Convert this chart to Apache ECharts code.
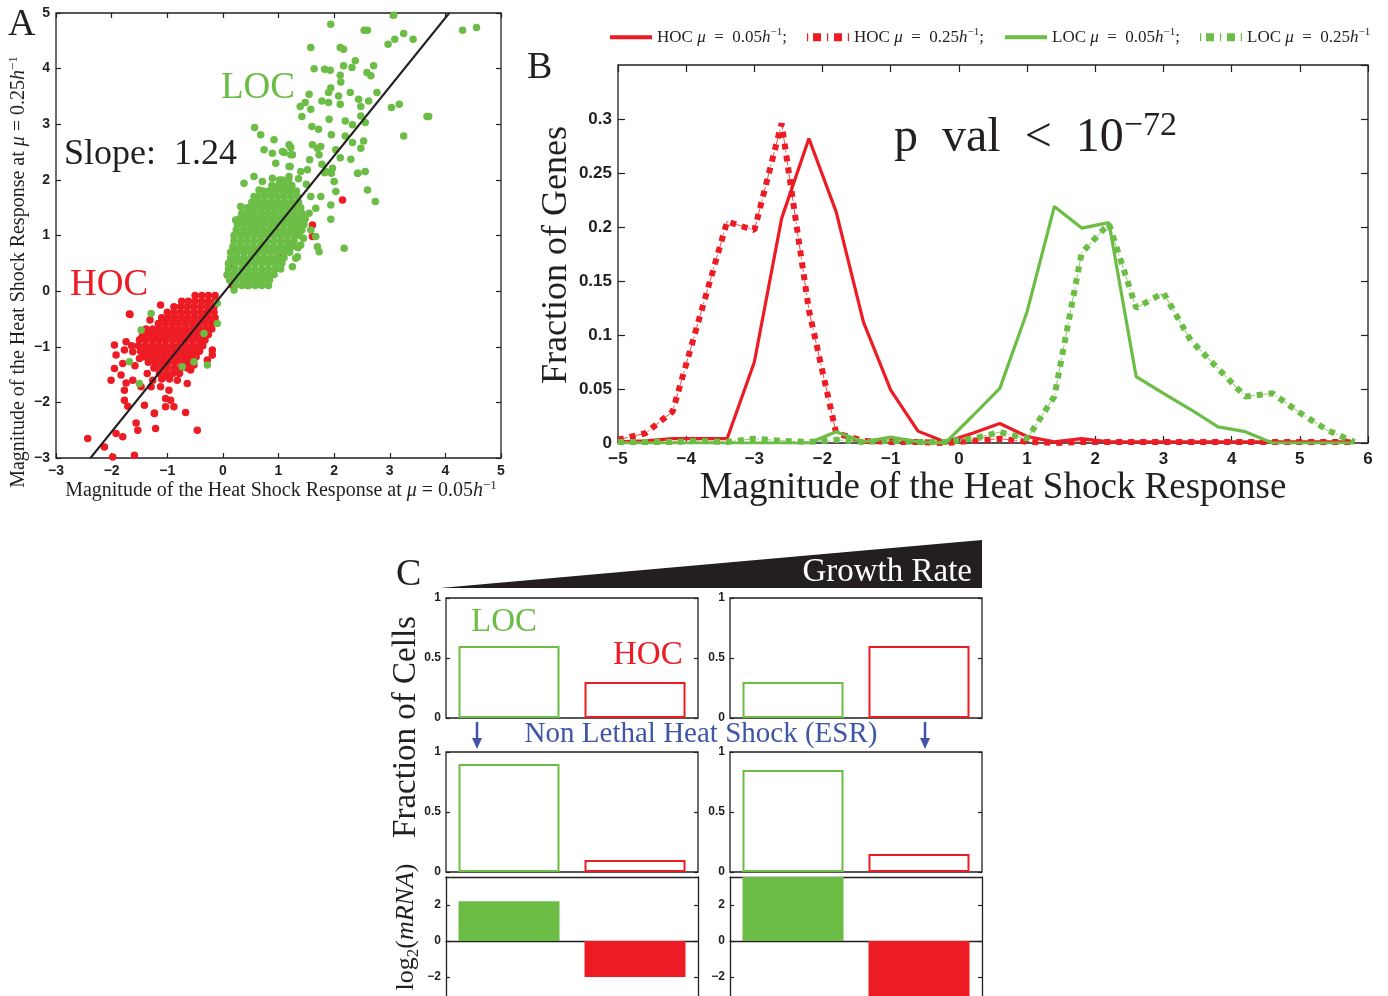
<!DOCTYPE html>
<html>
<head>
<meta charset="utf-8">
<title>Heat shock response</title>
<script src="https://cdn.jsdelivr.net/npm/echarts@6/dist/echarts.min.js"></script>
<style>
  html, body { margin: 0; padding: 0; background: #fff; }
  #chart { width: 1388px; height: 996px; }
</style>
</head>
<body>
<div id="chart"></div>
<script>
// ---------- panel A: response at mu=0.05 (x) vs mu=0.25 (y) ----------
const hocCore = [
  [-0.50,-0.08],[-0.38,-0.08],[-0.26,-0.08],[-0.14,-0.08],
  [-0.74,-0.18],[-0.62,-0.18],[-0.50,-0.18],[-0.38,-0.18],[-0.26,-0.18],[-0.14,-0.18],
  [-0.88,-0.28],[-0.76,-0.28],[-0.64,-0.28],[-0.52,-0.28],[-0.40,-0.28],[-0.28,-0.28],[-0.16,-0.28],
  [-1.00,-0.38],[-0.88,-0.38],[-0.76,-0.38],[-0.64,-0.38],[-0.52,-0.38],[-0.40,-0.38],[-0.28,-0.38],[-0.16,-0.38],
  [-1.10,-0.48],[-0.98,-0.48],[-0.86,-0.48],[-0.74,-0.48],[-0.62,-0.48],[-0.50,-0.48],[-0.38,-0.48],[-0.26,-0.48],[-0.14,-0.48],
  [-1.16,-0.58],[-1.04,-0.58],[-0.92,-0.58],[-0.80,-0.58],[-0.68,-0.58],[-0.56,-0.58],[-0.44,-0.58],[-0.32,-0.58],[-0.20,-0.58],
  [-1.38,-0.68],[-1.26,-0.68],[-1.14,-0.68],[-1.02,-0.68],[-0.90,-0.68],[-0.78,-0.68],[-0.66,-0.68],[-0.54,-0.68],[-0.42,-0.68],[-0.30,-0.68],[-0.20,-0.68],
  [-1.44,-0.78],[-1.32,-0.78],[-1.20,-0.78],[-1.08,-0.78],[-0.96,-0.78],[-0.84,-0.78],[-0.72,-0.78],[-0.60,-0.78],[-0.48,-0.78],[-0.36,-0.78],[-0.26,-0.78],
  [-1.50,-0.88],[-1.38,-0.88],[-1.26,-0.88],[-1.14,-0.88],[-1.02,-0.88],[-0.90,-0.88],[-0.78,-0.88],[-0.66,-0.88],[-0.54,-0.88],[-0.42,-0.88],[-0.32,-0.88],
  [-1.52,-0.98],[-1.40,-0.98],[-1.28,-0.98],[-1.16,-0.98],[-1.04,-0.98],[-0.92,-0.98],[-0.80,-0.98],[-0.68,-0.98],[-0.56,-0.98],[-0.44,-0.98],[-0.36,-0.98],
  [-1.48,-1.08],[-1.36,-1.08],[-1.24,-1.08],[-1.12,-1.08],[-1.00,-1.08],[-0.88,-1.08],[-0.76,-1.08],[-0.64,-1.08],[-0.52,-1.08],[-0.42,-1.08],
  [-1.42,-1.18],[-1.30,-1.18],[-1.18,-1.18],[-1.06,-1.18],[-0.94,-1.18],[-0.82,-1.18],[-0.70,-1.18],[-0.58,-1.18],[-0.48,-1.18],
  [-1.34,-1.28],[-1.22,-1.28],[-1.10,-1.28],[-0.98,-1.28],[-0.86,-1.28],[-0.74,-1.28],[-0.62,-1.28],
  [-1.24,-1.38],[-1.12,-1.38],[-1.00,-1.38],[-0.88,-1.38],[-0.76,-1.38],[-0.64,-1.38],
  [-1.14,-1.48],[-1.02,-1.48],[-0.90,-1.48],[-0.78,-1.48],
  [-1.10,-1.58],[-0.96,-1.58]
];
const hocSparse = [
  [-2.43,-2.65],[-1.98,-2.98],[-2.13,-2.80],[-1.92,-2.56],[-1.80,-2.62],[-1.59,-2.95],[-1.56,-2.37],[-1.53,-2.50],
  [-1.21,-2.47],[-1.23,-2.19],[-0.67,-2.18],[-0.46,-2.50],[-1.12,-0.25],[-1.67,-0.42],[-1.31,-0.52],[-1.47,-0.85],
  [-1.95,-0.97],[-1.92,-1.15],[-1.77,-1.06],[-1.62,-1.09],[-1.50,-1.21],[-1.80,-1.30],[-1.95,-1.39],[-1.83,-1.51],
  [-2.01,-1.60],[-1.74,-1.65],[-1.62,-1.60],[-1.77,-1.78],[-1.47,-1.72],[-1.29,-1.72],[-1.12,-1.72],[-0.97,-1.78],
  [-1.03,-1.93],[-0.94,-1.96],[-0.88,-2.08],[-1.03,-2.08],[-1.41,-2.05],[-1.23,-2.20],[-1.77,-1.96],[-1.71,-2.07],
  [-0.82,-1.60],[-0.64,-1.66],[-0.79,-1.45],[-0.58,-1.42],[-0.52,-1.33],[-0.19,-1.06],[-0.19,-1.15],[-0.28,-1.24],
  [-1.15,-1.39],[-1.00,-1.54],[-1.26,-1.60],[-1.68,-0.41],[-1.74,-0.91],[-1.36,-1.48],[-1.58,-1.34],[-1.64,-0.98],
  [2.15,1.64],[1.61,1.19],[1.61,0.98],[1.25,0.86],[1.07,0.62],[0.83,0.26],[0.71,0.23],[0.17,0.11],
  [0.08,0.29],[0.17,0.47],[1.04,0.61],[0.60,0.12],[0.45,0.10]
];
const locCore = [
  [0.22,0.10],[0.34,0.10],[0.46,0.10],[0.58,0.10],[0.70,0.10],[0.82,0.10],
  [0.12,0.20],[0.24,0.20],[0.36,0.20],[0.48,0.20],[0.60,0.20],[0.72,0.20],[0.84,0.20],
  [0.08,0.30],[0.20,0.30],[0.32,0.30],[0.44,0.30],[0.56,0.30],[0.68,0.30],[0.80,0.30],[0.92,0.30],
  [0.10,0.40],[0.22,0.40],[0.34,0.40],[0.46,0.40],[0.58,0.40],[0.70,0.40],[0.82,0.40],[0.94,0.40],[1.04,0.40],
  [0.10,0.50],[0.22,0.50],[0.34,0.50],[0.46,0.50],[0.58,0.50],[0.70,0.50],[0.82,0.50],[0.94,0.50],[1.06,0.50],
  [0.14,0.60],[0.26,0.60],[0.38,0.60],[0.50,0.60],[0.62,0.60],[0.74,0.60],[0.86,0.60],[0.98,0.60],[1.10,0.60],
  [0.14,0.70],[0.26,0.70],[0.38,0.70],[0.50,0.70],[0.62,0.70],[0.74,0.70],[0.86,0.70],[0.98,0.70],[1.10,0.70],[1.20,0.70],
  [0.18,0.80],[0.30,0.80],[0.42,0.80],[0.54,0.80],[0.66,0.80],[0.78,0.80],[0.90,0.80],[1.02,0.80],[1.14,0.80],[1.24,0.80],
  [0.20,0.90],[0.32,0.90],[0.44,0.90],[0.56,0.90],[0.68,0.90],[0.80,0.90],[0.92,0.90],[1.04,0.90],[1.16,0.90],[1.28,0.90],
  [0.20,1.00],[0.32,1.00],[0.44,1.00],[0.56,1.00],[0.68,1.00],[0.80,1.00],[0.92,1.00],[1.04,1.00],[1.16,1.00],[1.28,1.00],[1.38,1.00],
  [0.24,1.10],[0.36,1.10],[0.48,1.10],[0.60,1.10],[0.72,1.10],[0.84,1.10],[0.96,1.10],[1.08,1.10],[1.20,1.10],[1.32,1.10],[1.42,1.10],
  [0.26,1.20],[0.38,1.20],[0.50,1.20],[0.62,1.20],[0.74,1.20],[0.86,1.20],[0.98,1.20],[1.10,1.20],[1.22,1.20],[1.34,1.20],[1.46,1.20],
  [0.30,1.30],[0.42,1.30],[0.54,1.30],[0.66,1.30],[0.78,1.30],[0.90,1.30],[1.02,1.30],[1.14,1.30],[1.26,1.30],[1.38,1.30],[1.48,1.30],
  [0.34,1.40],[0.46,1.40],[0.58,1.40],[0.70,1.40],[0.82,1.40],[0.94,1.40],[1.06,1.40],[1.18,1.40],[1.30,1.40],[1.42,1.40],
  [0.44,1.50],[0.56,1.50],[0.68,1.50],[0.80,1.50],[0.92,1.50],[1.04,1.50],[1.16,1.50],[1.28,1.50],[1.40,1.50],
  [0.52,1.60],[0.64,1.60],[0.76,1.60],[0.88,1.60],[1.00,1.60],[1.12,1.60],[1.24,1.60],[1.36,1.60],
  [0.62,1.70],[0.74,1.70],[0.86,1.70],[0.98,1.70],[1.10,1.70],[1.22,1.70],[1.34,1.70],
  [0.72,1.80],[0.84,1.80],[0.96,1.80],[1.08,1.80],[1.20,1.80],[1.32,1.80],
  [0.88,1.90],[1.00,1.90],[1.12,1.90],[1.24,1.90],
  [1.02,2.00],[1.18,2.00]
];
const locSparse = [
  [3.07,4.96],[1.94,4.80],[2.54,4.69],[2.60,4.69],[3.25,4.63],[3.42,4.53],[3.09,4.53],[2.97,4.44],[4.31,4.69],[4.56,4.74],
  [1.58,4.38],[2.11,4.38],[2.17,4.35],[2.38,4.14],[1.64,4.00],[1.83,3.99],[1.93,3.97],[2.17,4.05],[2.32,4.02],[2.59,3.93],
  [2.71,4.05],[2.66,3.87],[2.11,3.88],[2.12,3.76],[1.94,3.65],[1.90,3.57],[2.08,3.51],[2.29,3.57],[1.55,3.54],[1.78,3.42],
  [1.48,3.39],[1.39,3.32],[1.90,3.39],[2.11,3.36],[2.44,3.45],[2.48,3.32],[2.62,3.42],[2.77,3.57],[3.17,3.36],[3.03,3.30],
  [3.67,3.14],[3.70,3.14],[1.58,3.27],[1.42,3.14],[1.91,3.09],[2.20,3.06],[2.48,3.15],[2.56,3.03],[2.33,2.99],[1.60,2.96],
  [1.72,2.91],[3.25,2.79],[0.57,2.94],[0.68,2.81],[0.92,2.72],[0.74,2.54],[1.22,2.58],[1.25,2.45],[1.61,2.63],[1.76,2.60],
  [1.95,2.81],[2.20,2.79],[2.33,2.67],[2.53,2.70],[2.48,2.57],[2.30,2.37],[2.11,2.40],[1.95,2.12],[1.78,2.28],[1.83,2.13],
  [2.43,2.12],[2.56,2.15],[2.60,1.82],[2.74,1.61],[1.94,1.29],[0.89,2.48],[1.10,2.49],[0.95,2.30],[1.21,2.24],
  [0.38,1.94],[0.56,2.06],[0.71,1.97],[0.23,1.28],[1.07,2.00],[1.19,2.06],[1.40,2.15],[1.52,2.18],[1.70,2.57],[1.73,2.45],
  [1.56,2.36],[2.03,2.54],[1.97,2.21],[1.85,2.15],[2.42,2.12],[2.00,1.97],[2.03,1.79],[1.94,1.55],[1.76,1.70],[1.67,1.49],
  [2.18,0.77],[1.70,0.80],[1.67,0.98],[1.58,1.10],[1.34,0.62],[1.25,0.44],[1.73,0.71],[1.40,0.83],[1.31,0.59],
  [1.07,2.51],[1.19,2.63],[1.22,2.45],[1.19,2.24],[0.89,2.03],[0.65,1.82],[0.80,1.79],[0.95,1.88],[1.10,1.79],
  [0.56,1.70],[0.32,1.52],[0.47,1.46],[1.36,2.02],[1.50,1.92],[1.58,1.70],[1.55,1.40],[1.45,0.95],[1.35,0.78],
  [-1.29,-0.40],[-1.47,-0.70],[-1.68,-1.27],[-1.50,-1.66],[-0.73,-1.36],[-0.28,-1.33],[-0.52,-1.27],
  [-0.10,-0.22],[-0.10,-0.58],[-0.34,-0.76],[0.20,0.02]
];
const slopeLineX = [-2.38, 4.07];
const slopeLineY = [-3, 5];

// ---------- panel B: distribution of heat shock response ----------
const binCenters = [-5, -4.6, -4.2, -3.8, -3.4, -3.0, -2.6, -2.2, -1.8, -1.4, -1.0, -0.6, -0.2, 0.2,
  0.6, 1.0, 1.4, 1.8, 2.2, 2.6, 3.0, 3.4, 3.8, 4.2, 4.6, 5.0, 5.4, 5.8];
const hocSlow = [0.001, 0.002, 0.004, 0.004, 0.004, 0.075, 0.208, 0.282, 0.214, 0.112, 0.049, 0.011, 0.001, 0.009,
  0.018, 0.006, 0.001, 0.004, 0.001, 0.001, 0.001, 0.001, 0.001, 0.001, 0.001, 0.001, 0.001, 0.001];
const hocFast = [0.003, 0.009, 0.029, 0.117, 0.205, 0.197, 0.296, 0.123, 0.009, 0.002, 0.001, 0.001, 0.000, 0.002,
  0.004, 0.001, 0.000, 0.001, 0.001, 0.001, 0.001, 0.001, 0.001, 0.001, 0.001, 0.001, 0.001, 0.001];
const locSlow = [0.000, 0.000, 0.000, 0.000, 0.000, 0.000, 0.000, 0.000, 0.0105, 0.001, 0.0055, 0.001, 0.000, 0.025,
  0.0506, 0.1216, 0.219, 0.199, 0.204, 0.0614, 0.046, 0.031, 0.015, 0.0105, 0.000, 0.000, 0.000, 0.000];
const locFast = [0.001, 0.001, 0.001, 0.002, 0.001, 0.004, 0.002, 0.001, 0.003, 0.001, 0.002, 0.001, 0.001, 0.004,
  0.010, 0.004, 0.043, 0.176, 0.203, 0.125, 0.139, 0.095, 0.069, 0.043, 0.046, 0.028, 0.012, 0.001];
const seriesNames = ['HOC 0.05', 'HOC 0.25', 'LOC 0.05', 'LOC 0.25'];

// ---------- panel C: cartoon bars (LOC, HOC) ----------
const barPos = [1, 2];
const cellsSlowBefore = [0.6, 0.3];
const cellsFastBefore = [0.3, 0.6];
const cellsSlowAfter = [0.9, 0.1];
const cellsFastAfter = [0.85, 0.15];
const mrnaSlow = [2.2, -2.0];
const mrnaFast = [3.8, -3.8];

const RED = '#ED1C24';
const GREEN = '#6BBD45';
const BLUE = '#3F56A6';
const AX = '#231F20';
const SERIF = '"Liberation Serif", "DejaVu Serif", serif';
const SANS = '"Liberation Sans", Arial, sans-serif';
const minus = v => String(v).replace('-', '\u2212');

const grids = [
  { left: 56, top: 13, width: 445, height: 445 },     // A
  { left: 618, top: 65, width: 750, height: 378 },    // B
  { left: 446, top: 598, width: 252, height: 120 },   // C top left
  { left: 730, top: 598, width: 252, height: 120 },   // C top right
  { left: 446, top: 752, width: 252, height: 120 },   // C mid left
  { left: 730, top: 752, width: 252, height: 120 },   // C mid right
  { left: 446, top: 877, width: 252, height: 119, show: false },   // C bottom left (cut by page edge)
  { left: 730, top: 877, width: 252, height: 119, show: false }    // C bottom right
].map(g => Object.assign({ show: true, borderColor: AX, borderWidth: 1.3, backgroundColor: 'transparent' }, g));

const tickLabel = (size) => ({ fontFamily: SANS, fontWeight: 'bold', fontSize: size, color: AX, formatter: minus });
const edge = { show: true, onZero: false, lineStyle: { color: AX, width: 1.3 } };

const xAxes = [];
const yAxes = [];
function boxAxes(gi, xr, yr, xLab, yLab, opts) {
  opts = opts || {};
  const tick = { inside: true, length: opts.tickLen || 5, lineStyle: { color: AX, width: 1.2 } };
  const base = { gridIndex: gi, type: 'value', splitLine: { show: false } };
  const open = !!opts.openBottom;
  xAxes.push(Object.assign({}, base, xr, {
    axisLine: open ? { show: true, onZero: true, lineStyle: { color: AX, width: 1.3 } } : { show: false, onZero: false },
    axisTick: opts.noXTicks ? { show: false } : tick,
    axisLabel: xLab ? Object.assign({ margin: xLab.margin }, tickLabel(xLab.size)) : { show: false }
  }));
  xAxes.push(Object.assign({}, base, xr, {
    position: 'top', axisLine: open ? edge : { show: false, onZero: false },
    axisTick: opts.noXTicks ? { show: false } : tick, axisLabel: { show: false }
  }));
  const yTick = Object.assign({}, tick, opts.yCustom ? { customValues: opts.yCustom } : {});
  yAxes.push(Object.assign({}, base, yr, {
    axisLine: open ? edge : { show: false, onZero: false }, axisTick: yTick,
    axisLabel: Object.assign({ margin: yLab.margin, showMaxLabel: yLab.showMax !== false },
      opts.yCustom ? { customValues: opts.yCustom } : {}, tickLabel(yLab.size))
  }));
  yAxes.push(Object.assign({}, base, yr, {
    position: 'right', axisLine: open ? edge : { show: false, onZero: false }, axisTick: yTick, axisLabel: { show: false }
  }));
}

boxAxes(0, { min: -3, max: 5, interval: 1 }, { min: -3, max: 5, interval: 1 },
  { size: 14, margin: 6 }, { size: 14, margin: 6 });
boxAxes(1, { min: -5, max: 6, interval: 1 }, { min: 0, max: 0.35, interval: 0.05 },
  { size: 17, margin: 8 }, { size: 17, margin: 6, showMax: false }, { tickLen: 7 });
for (let gi = 2; gi < 6; gi++) {
  boxAxes(gi, { min: 0.5, max: 2.5 }, { min: 0, max: 1, interval: 0.5 }, null, { size: 12, margin: 5 },
    { noXTicks: true, tickLen: 4 });
}
for (let gi = 6; gi < 8; gi++) {
  boxAxes(gi, { min: 0.5, max: 2.5 }, { min: -3.06, max: 3.55 }, null, { size: 12, margin: 5 },
    { noXTicks: true, tickLen: 4, openBottom: true, yCustom: [-2, 0, 2] });
}

const series = [];
// panel A
series.push({ type: 'scatter', xAxisIndex: 0, yAxisIndex: 0, data: hocCore.concat(hocSparse),
  symbolSize: 7.5, itemStyle: { color: RED, opacity: 1 }, silent: true });
series.push({ type: 'scatter', xAxisIndex: 0, yAxisIndex: 0, data: locCore.concat(locSparse),
  symbolSize: 7.5, itemStyle: { color: GREEN, opacity: 1 }, silent: true });
series.push({ type: 'line', xAxisIndex: 0, yAxisIndex: 0, data: slopeLineX.map((x, i) => [x, slopeLineY[i]]),
  symbol: 'none', lineStyle: { color: AX, width: 2 }, z: 5, silent: true });

// panel B: solid lines for mu=0.05, thick dots over a thin dash-dot for mu=0.25
const bLines = [
  [hocSlow, RED, false],
  [hocFast, RED, true],
  [locSlow, GREEN, false],
  [locFast, GREEN, true]
];
bLines.forEach((d, i) => {
  const pts = binCenters.map((x, k) => [x, d[0][k]]);
  if (d[2]) {
    series.push({
      type: 'line', xAxisIndex: 2, yAxisIndex: 2, data: pts, symbol: 'none', silent: true,
      lineStyle: { color: d[1], type: [10, 3, 2, 3], width: 1, opacity: 0.8 }
    });
  }
  series.push({
    name: seriesNames[i], type: 'line', xAxisIndex: 2, yAxisIndex: 2, data: pts,
    symbol: 'none', smooth: false, silent: true,
    lineStyle: d[2]
      ? { color: d[1], type: [6, 6], width: 6, cap: 'butt', join: 'bevel' }
      : { color: d[1], type: 'solid', width: 3.2, join: 'bevel' },
    itemStyle: { color: d[1] }
  });
});

// panel C
function barSeries(gi, vals, filled) {
  const colors = [GREEN, RED];
  series.push({
    type: 'bar', xAxisIndex: gi * 2, yAxisIndex: gi * 2, barWidth: 101, silent: true,
    data: barPos.map((p, k) => ({
      value: [p, vals[k]],
      itemStyle: filled ? { color: colors[k] } : { color: 'rgba(0,0,0,0)', borderColor: colors[k], borderWidth: 2 }
    }))
  });
}
barSeries(2, cellsSlowBefore, false);
barSeries(3, cellsFastBefore, false);
barSeries(4, cellsSlowAfter, false);
barSeries(5, cellsFastAfter, false);
barSeries(6, mrnaSlow, true);
barSeries(7, mrnaFast, true);

const supRich = (base, sup) => ({
  n: { fontFamily: SERIF, fontSize: base, lineHeight: base * 1.2, fill: AX, color: AX },
  i: { fontFamily: SERIF, fontStyle: 'italic', fontSize: base, lineHeight: base * 1.2, fill: AX, color: AX },
  s: { fontFamily: SERIF, fontSize: sup, lineHeight: sup, verticalAlign: 'top', fill: AX, color: AX }
});

// one legend per entry so each sits where it does in the figure
const legendText = [
  '{n|HOC} {i|\u03bc}{n|  =  0.05}{i|h}{s|\u22121}{n|;}',
  '{n|HOC} {i|\u03bc}{n|  =  0.25}{i|h}{s|\u22121}{n|;}',
  '{n|LOC} {i|\u03bc}{n|  =  0.05}{i|h}{s|\u22121}{n|;}',
  '{n|LOC} {i|\u03bc}{n|  =  0.25}{i|h}{s|\u22121}'
];
const legendLeft = [610, 807, 1005, 1200];
const solidIcon = 'path://M0 0L0.01 0M0 2H42V6H0ZM0 8L0.01 8';
const dotIcon = 'path://M0 0H1.2V8H0ZM6 0H14V8H6ZM20 0H21.2V8H20ZM27 0H35V8H27ZM40.8 0H42V8H40.8Z';
const legends = seriesNames.map((n, i) => ({
  data: [{ name: n, icon: i % 2 ? dotIcon : solidIcon }],
  left: legendLeft[i], top: 27, itemWidth: 42, itemHeight: 8, selectedMode: false, padding: 0,
  textStyle: { fontFamily: SERIF, fontSize: 17, color: AX, rich: supRich(17, 11) },
  formatter: () => legendText[i]
}));

function txt(x, y, text, size, color, extra) {
  return {
    type: 'text', x: x, y: y, silent: true,
    style: Object.assign({ text: text, fill: color || AX, font: size + 'px ' + SERIF,
      fontFamily: SERIF, fontSize: size, align: 'left', verticalAlign: 'middle',
      textAlign: 'left', textVerticalAlign: 'middle' }, extra || {})
  };
}
function rot(el) { el.rotation = Math.PI / 2; return el; }
const center = { align: 'center', textAlign: 'center' };

function arrow(x) {
  return [
    { type: 'line', silent: true, shape: { x1: x, y1: 722, x2: x, y2: 740 }, style: { stroke: BLUE, lineWidth: 2.5 } },
    { type: 'polygon', silent: true, shape: { points: [[x - 5, 738], [x + 5, 738], [x, 749]] }, style: { fill: BLUE } }
  ];
}

const graphics = [
  txt(8, 25, 'A', 38),
  txt(527, 68, 'B', 38),
  txt(396, 575, 'C', 38),
  txt(64, 155, 'Slope:  1.24', 36),
  txt(221, 88, 'LOC', 37, GREEN),
  txt(70, 285, 'HOC', 37, RED),
  txt(894, 138, '', 48, AX, {
    text: '{n|p  val  <  10}{s|\u221272}', rich: supRich(48, 34)
  }),
  // axis titles
  txt(281, 491, '', 20, AX, Object.assign({
    text: '{n|Magnitude of the Heat Shock Response at }{i|\u03bc}{n| = 0.05}{i|h}{s|\u22121}', rich: supRich(20, 13)
  }, center)),
  rot(txt(19, 272, '', 20, AX, Object.assign({
    text: '{n|Magnitude of the Heat Shock Response at }{i|\u03bc}{n| = 0.25}{i|h}{s|\u22121}', rich: supRich(20, 13)
  }, center))),
  txt(993, 488, 'Magnitude of the Heat Shock Response', 37, AX, center),
  rot(txt(557, 255, 'Fraction of Genes', 36, AX, center)),
  // panel C decorations
  { type: 'polygon', silent: true, shape: { points: [[440, 588], [982, 540], [982, 588]] }, style: { fill: AX } },
  txt(972, 572, 'Growth Rate', 33, '#fff', { align: 'right', textAlign: 'right' }),
  txt(701, 734, 'Non Lethal Heat Shock (ESR)', 29, BLUE, center),
  txt(471, 622, 'LOC', 33, GREEN),
  txt(613, 655, 'HOC', 33, RED),
  rot(txt(406, 727, 'Fraction of Cells', 33, AX, center)),
  rot(txt(406, 927, '', 26, AX, Object.assign({
    text: '{n|log}{b|2}{n|(}{i|mRNA}{n|)}',
    rich: Object.assign(supRich(26, 17), {
      b: { fontFamily: SERIF, fontSize: 17, lineHeight: 17, verticalAlign: 'bottom', fill: AX, color: AX }
    })
  }, center)))
].concat(arrow(477), arrow(925));

const chart = echarts.init(document.getElementById('chart'));
chart.setOption({
  animation: false,
  backgroundColor: '#fff',
  grid: grids,
  xAxis: xAxes,
  yAxis: yAxes,
  legend: legends,
  series: series,
  graphic: graphics
});
</script>
</body>
</html>
